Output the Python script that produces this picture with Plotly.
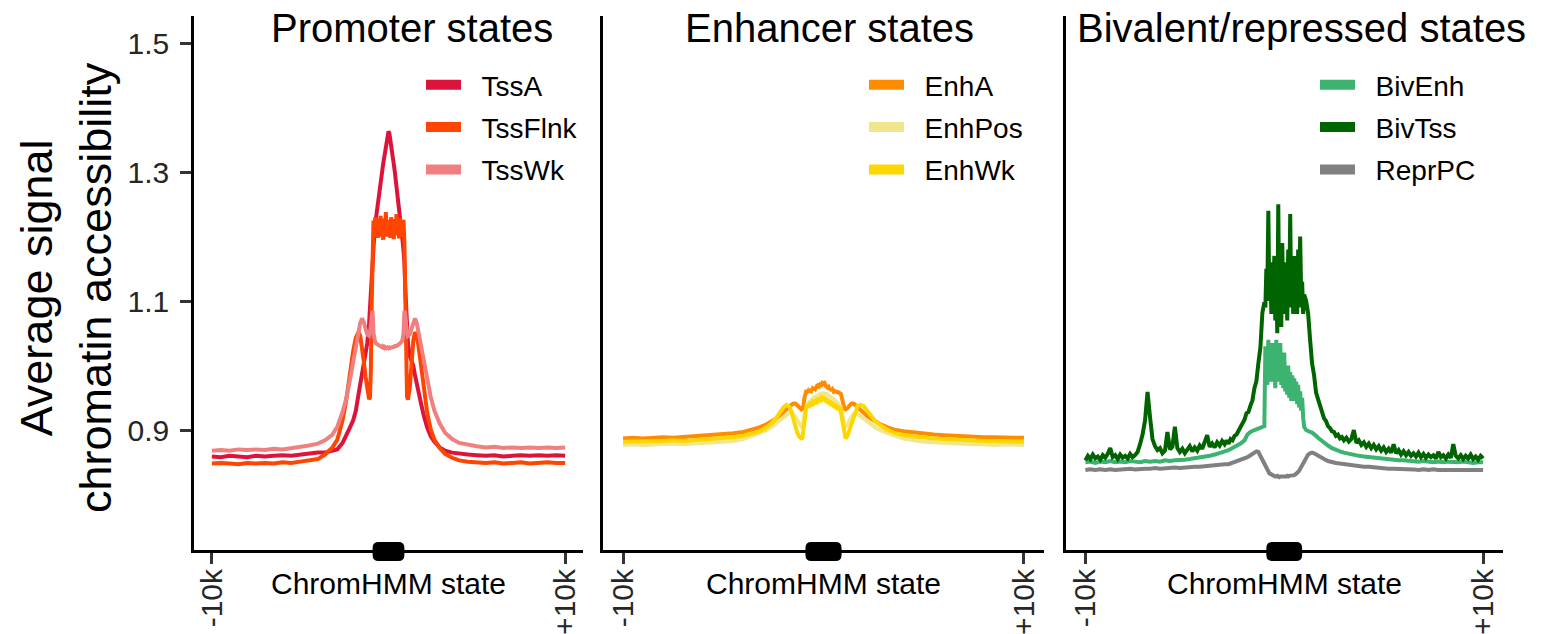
import plotly.graph_objects as go

W, H = 1553, 634
FONT = "Liberation Sans, Arial, Helvetica, sans-serif"

# ---------------------------------------------------------------------------
# Positions (bp) relative to the centre of the ChromHMM state
# ---------------------------------------------------------------------------
P12_X = ([-10000, -9500, -9000, -8500, -8000, -7500, -7000, -6500, -6000, -5500, -5000, -4500, -4000,
          -3600, -3200, -2900, -2600, -2400, -2200, -2000, -1850, -1700, -1600, -1500, -1400, -1300,
          -1200, -1100, -1050, -1000, -950]
         + list(range(-900, 901, 50))
         + [950, 1000, 1050, 1100, 1200, 1300, 1400, 1500, 1600, 1700, 1850, 2000, 2200, 2400, 2600,
            2900, 3200, 3600,
            4000, 4500, 5000, 5500, 6000, 6500, 7000, 7500, 8000, 8500, 9000, 9500, 10000])

P3_X = (list(range(-10000, -2999, 250))
        + [-2800, -2600, -2400, -2200, -2000, -1850, -1700, -1600, -1500, -1400, -1300, -1200, -1100, -1000]
        + list(range(-950, 951, 50))
        + [1000, 1100, 1200, 1300, 1400, 1500, 1600, 1700, 1850, 2000, 2200, 2400, 2600, 2800]
        + list(range(3000, 10001, 250)))

# BivTss is sampled more finely: its profile is much noisier
BIVTSS_X = (list(range(-10000, -2999, 125))
            + list(range(-2900, -999, 100))
            + list(range(-950, 951, 50))
            + list(range(1000, 2901, 100))
            + list(range(3000, 10001, 125)))

# ---------------------------------------------------------------------------
# Promoter states
# ---------------------------------------------------------------------------
TSSA = [0.859, 0.858, 0.860, 0.859, 0.858, 0.860, 0.859, 0.860, 0.861, 0.860, 0.862, 0.863, 0.865,
        0.865, 0.867, 0.870, 0.880, 0.890, 0.903, 0.915, 0.930, 0.955, 0.970, 0.988, 1.004, 1.015,
        1.035, 1.065, 1.090, 1.120, 1.150,
        1.170, 1.190, 1.205, 1.220, 1.232, 1.243, 1.253, 1.263, 1.273, 1.283, 1.293, 1.303, 1.313,
        1.322, 1.332, 1.342, 1.352, 1.360, 1.363, 1.360, 1.352, 1.342, 1.332, 1.322, 1.312, 1.302,
        1.291, 1.280, 1.268, 1.256, 1.244, 1.232, 1.220, 1.207, 1.193, 1.178, 1.160,
        1.120, 1.090, 1.062, 1.035, 1.015, 1.008, 1.000, 0.985, 0.970, 0.958, 0.940, 0.922, 0.903,
        0.890, 0.882, 0.873, 0.868, 0.865,
        0.863, 0.862, 0.861, 0.860, 0.861, 0.859, 0.860, 0.861, 0.860, 0.861, 0.860, 0.861, 0.860]

TSSFLNK = [0.848, 0.849, 0.848, 0.847, 0.849, 0.848, 0.849, 0.848, 0.850, 0.849, 0.851, 0.853, 0.855,
           0.862, 0.872, 0.885, 0.915, 0.945, 0.985, 1.022, 1.043, 1.052, 1.046, 1.030, 1.007, 0.983,
           0.962, 0.948, 0.950, 0.990, 1.100,
           1.195, 1.225, 1.200, 1.230, 1.205, 1.222, 1.198, 1.228, 1.200, 1.232, 1.205, 1.220, 1.195,
           1.228, 1.203, 1.238, 1.200, 1.226, 1.210, 1.224, 1.198, 1.230, 1.204, 1.219, 1.196, 1.227,
           1.202, 1.235, 1.205, 1.221, 1.197, 1.229, 1.203, 1.224, 1.199, 1.226, 1.190,
           1.090, 0.990, 0.952, 0.947, 0.965, 1.000, 1.038, 1.052, 1.046, 1.030, 0.998, 0.962, 0.925,
           0.900, 0.885, 0.872, 0.863, 0.857,
           0.853, 0.851, 0.850, 0.849, 0.850, 0.848, 0.849, 0.850, 0.848, 0.849, 0.850, 0.849, 0.849]

TSSWK = [0.868, 0.869, 0.868, 0.870, 0.869, 0.870, 0.869, 0.871, 0.870, 0.872, 0.873, 0.876, 0.879,
         0.884, 0.892, 0.905, 0.928, 0.948, 0.975, 1.005, 1.030, 1.052, 1.066, 1.073, 1.068, 1.057,
         1.048, 1.046, 1.050, 1.062, 1.078,
         1.085, 1.050, 1.040, 1.036, 1.034, 1.033, 1.032, 1.031, 1.031, 1.030, 1.029, 1.030, 1.028,
         1.029, 1.027, 1.028, 1.027, 1.028, 1.027, 1.028, 1.027, 1.028, 1.028, 1.029, 1.029, 1.030,
         1.030, 1.031, 1.031, 1.032, 1.033, 1.034, 1.035, 1.037, 1.041, 1.050, 1.085,
         1.078, 1.062, 1.050, 1.046, 1.048, 1.057, 1.068, 1.073, 1.066, 1.052, 1.030, 1.005, 0.975,
         0.950, 0.930, 0.910, 0.896, 0.886,
         0.880, 0.877, 0.875, 0.873, 0.874, 0.872, 0.873, 0.872, 0.873, 0.872, 0.873, 0.872, 0.873]

# ---------------------------------------------------------------------------
# Enhancer states
# ---------------------------------------------------------------------------
ENHA = [0.887, 0.888, 0.887, 0.888, 0.889, 0.888, 0.889, 0.890, 0.891, 0.892, 0.893, 0.895, 0.897,
        0.900, 0.904, 0.908, 0.913, 0.917, 0.922, 0.928, 0.933, 0.937, 0.939, 0.941, 0.941, 0.938,
        0.934, 0.932, 0.933, 0.938, 0.950,
        0.955, 0.962, 0.958, 0.961, 0.959, 0.963, 0.961, 0.964, 0.962, 0.966, 0.964, 0.967, 0.965,
        0.969, 0.968, 0.971, 0.970, 0.973, 0.972, 0.973, 0.969, 0.968, 0.966, 0.967, 0.963, 0.965,
        0.961, 0.963, 0.960, 0.962, 0.958, 0.961, 0.957, 0.960, 0.956, 0.958, 0.950,
        0.945, 0.936, 0.933, 0.932, 0.934, 0.938, 0.941, 0.941, 0.939, 0.936, 0.931, 0.926, 0.921,
        0.917, 0.913, 0.908, 0.904, 0.900,
        0.898, 0.896, 0.894, 0.893, 0.892, 0.891, 0.890, 0.890, 0.889, 0.889, 0.888, 0.888, 0.888]

ENHPOS = [0.877, 0.878, 0.877, 0.878, 0.878, 0.879, 0.878, 0.879, 0.880, 0.881, 0.882, 0.883, 0.886,
          0.891, 0.895, 0.899, 0.905, 0.910, 0.915, 0.921, 0.925, 0.927, 0.926, 0.924, 0.920, 0.914,
          0.908, 0.905, 0.906, 0.912, 0.925,
          0.932, 0.938, 0.940, 0.942, 0.944, 0.945, 0.947, 0.948, 0.950, 0.951, 0.952, 0.953, 0.954,
          0.955, 0.956, 0.956, 0.957, 0.957, 0.957, 0.957, 0.956, 0.956, 0.955, 0.954, 0.953, 0.952,
          0.951, 0.950, 0.948, 0.947, 0.945, 0.944, 0.942, 0.940, 0.938, 0.936, 0.930,
          0.922, 0.912, 0.906, 0.905, 0.908, 0.915, 0.921, 0.925, 0.926, 0.925, 0.922, 0.918, 0.913,
          0.908, 0.904, 0.899, 0.895, 0.891,
          0.887, 0.884, 0.882, 0.881, 0.880, 0.879, 0.879, 0.878, 0.878, 0.877, 0.878, 0.877, 0.877]

ENHWK = [0.882, 0.882, 0.883, 0.882, 0.883, 0.884, 0.883, 0.884, 0.885, 0.886, 0.887, 0.889, 0.891,
         0.894, 0.898, 0.903, 0.910, 0.917, 0.926, 0.935, 0.939, 0.936, 0.928, 0.916, 0.905, 0.895,
         0.889, 0.887, 0.888, 0.900, 0.920,
         0.925, 0.938, 0.936, 0.940, 0.938, 0.941, 0.940, 0.943, 0.941, 0.944, 0.943, 0.946, 0.944,
         0.947, 0.946, 0.949, 0.947, 0.950, 0.948, 0.949, 0.946, 0.947, 0.944, 0.945, 0.942, 0.943,
         0.940, 0.941, 0.938, 0.939, 0.936, 0.937, 0.934, 0.935, 0.932, 0.933, 0.922,
         0.912, 0.898, 0.889, 0.887, 0.891, 0.900, 0.911, 0.922, 0.931, 0.937, 0.939, 0.937, 0.929,
         0.920, 0.913, 0.906, 0.900, 0.895,
         0.892, 0.890, 0.888, 0.887, 0.886, 0.885, 0.884, 0.884, 0.883, 0.883, 0.882, 0.882, 0.882]

# ---------------------------------------------------------------------------
# Bivalent / repressed states
# ---------------------------------------------------------------------------
BIVENH = [0.850, 0.851, 0.849, 0.851, 0.850, 0.852, 0.850, 0.851, 0.850, 0.852, 0.851, 0.850, 0.852,
          0.851, 0.852, 0.851, 0.853, 0.852, 0.853, 0.853, 0.854, 0.855, 0.856, 0.857, 0.858, 0.860,
          0.862, 0.864, 0.867,
          0.869, 0.872, 0.875, 0.879, 0.884, 0.893, 0.897, 0.899, 0.900, 0.901, 0.902, 0.903, 0.905, 0.906,
          1.030, 1.020, 0.970, 1.040, 0.980, 1.030, 0.975, 1.035, 0.990, 1.020, 0.965, 1.040, 0.975,
          1.030, 0.980, 1.035, 0.970, 1.010, 0.965, 1.020, 0.960, 1.000, 0.955, 1.000, 0.950, 0.990,
          0.945, 0.985, 0.950, 0.980, 0.945, 0.975, 0.940, 0.970, 0.935, 0.960, 0.930, 0.950, 0.920,
          0.905, 0.900, 0.898, 0.897, 0.896, 0.894, 0.891, 0.888, 0.884, 0.880, 0.876, 0.872, 0.869, 0.867,
          0.865, 0.863, 0.862, 0.860, 0.859, 0.858, 0.857, 0.856, 0.855, 0.855, 0.854, 0.853, 0.853,
          0.852, 0.852, 0.851, 0.852, 0.851, 0.850, 0.851, 0.850, 0.851, 0.850, 0.850, 0.851, 0.850,
          0.849, 0.850, 0.850]

BIVTSS = [0.853, 0.860, 0.855, 0.862, 0.856, 0.859, 0.854, 0.861, 0.857, 0.863, 0.872, 0.858, 0.861,
          0.855, 0.862, 0.857, 0.860, 0.856, 0.863, 0.858, 0.861, 0.866, 0.878, 0.893, 0.915, 0.959,
          0.920, 0.886, 0.875, 0.869, 0.872, 0.864, 0.868, 0.897, 0.870, 0.874, 0.905, 0.872, 0.866,
          0.871, 0.864, 0.870, 0.875, 0.867, 0.873, 0.868, 0.876, 0.871, 0.880, 0.892, 0.874, 0.879,
          0.873, 0.881, 0.876, 0.883, 0.878,
          0.884, 0.879, 0.886, 0.884, 0.891, 0.893, 0.899, 0.903, 0.912, 0.916, 0.926, 0.928, 0.938,
          0.946, 0.965, 0.976, 1.004, 1.028, 1.082, 1.098,
          1.090, 1.150, 1.120, 1.240, 1.100, 1.160, 1.080, 1.140, 1.090, 1.170, 1.070, 1.130, 1.050,
          1.250, 1.080, 1.150, 1.060, 1.190, 1.090, 1.160, 1.080, 1.140, 1.070, 1.180, 1.100, 1.235,
          1.090, 1.150, 1.080, 1.170, 1.100, 1.140, 1.080, 1.180, 1.090, 1.200, 1.110, 1.130, 1.080,
          1.110, 1.100, 1.081, 1.040, 1.003, 0.985, 0.958, 0.948, 0.936, 0.930, 0.918, 0.914, 0.906,
          0.903, 0.898, 0.897, 0.891, 0.893, 0.887, 0.889,
          0.884, 0.888, 0.882, 0.886, 0.900, 0.880, 0.884, 0.877, 0.881, 0.874, 0.879, 0.872, 0.877,
          0.870, 0.875, 0.868, 0.873, 0.866, 0.871, 0.865, 0.878, 0.864, 0.869, 0.862, 0.867, 0.861,
          0.866, 0.860, 0.864, 0.859, 0.865, 0.858, 0.863, 0.857, 0.862, 0.858, 0.861, 0.856, 0.866,
          0.858, 0.861, 0.856, 0.862, 0.857, 0.878, 0.860, 0.856, 0.861, 0.855, 0.860, 0.856, 0.862,
          0.855, 0.859, 0.854, 0.860, 0.856]

REPRPC = [0.838, 0.839, 0.838, 0.839, 0.838, 0.839, 0.838, 0.839, 0.839, 0.840, 0.839, 0.840, 0.840,
          0.840, 0.841, 0.840, 0.841, 0.841, 0.842, 0.841, 0.842, 0.842, 0.843, 0.843, 0.844, 0.844,
          0.845, 0.846, 0.847,
          0.847, 0.849, 0.851, 0.853, 0.856, 0.858, 0.861, 0.863, 0.865, 0.867, 0.866, 0.860, 0.855, 0.848,
          0.844, 0.840, 0.837, 0.835, 0.833, 0.832, 0.831, 0.830, 0.829, 0.829, 0.828, 0.828, 0.829,
          0.828, 0.827, 0.828, 0.828, 0.827, 0.828, 0.828, 0.827, 0.828, 0.829, 0.828, 0.829, 0.829,
          0.830, 0.829, 0.830, 0.830, 0.831, 0.832, 0.833, 0.835, 0.837, 0.840, 0.843, 0.847, 0.850,
          0.853, 0.858, 0.862, 0.864, 0.865, 0.864, 0.862, 0.860, 0.857, 0.855, 0.852, 0.850, 0.849, 0.848,
          0.847, 0.846, 0.845, 0.844, 0.843, 0.843, 0.842, 0.841, 0.841, 0.840, 0.840, 0.840, 0.839,
          0.839, 0.839, 0.838, 0.839, 0.838, 0.839, 0.838, 0.838, 0.839, 0.838, 0.838, 0.839, 0.838,
          0.838, 0.839, 0.838]

Y_TICKS = [0.9, 1.1, 1.3, 1.5]
X_TICKS = [-10000, 10000]
X_TICK_TEXT = ["-10k", "+10k"]
STATE_HALF_WIDTH = 900  # bp either side of the state centre

PANELS = [
    dict(title="Promoter states", title_x=412, dom=(194.2, 582.8), xr=(-11000, 11000),
         series=[("TssA", P12_X, TSSA, "#DC143C"), ("TssFlnk", P12_X, TSSFLNK, "#FF4500"),
                 ("TssWk", P12_X, TSSWK, "#F08080")], legend_x=421),
    dict(title="Enhancer states", title_x=829, dom=(603.0, 1044.0), xr=(-11000, 11000),
         series=[("EnhA", P12_X, ENHA, "#FF8C00"), ("EnhPos", P12_X, ENHPOS, "#F0E68C"),
                 ("EnhWk", P12_X, ENHWK, "#FFD700")], legend_x=864),
    dict(title="Bivalent/repressed states", title_x=1301, dom=(1065.5, 1503.0), xr=(-11000, 11000),
         series=[("BivEnh", P3_X, BIVENH, "#3CB371"), ("BivTss", BIVTSS_X, BIVTSS, "#006400"),
                 ("ReprPC", P3_X, REPRPC, "#808080")], legend_x=1315),
]

Y_RANGE = (0.714, 1.542)
Y_DOM_PX = (16.0, 550.0)   # top, bottom (pixels from the top of the figure)
NBSP = "\u00a0"


def px_to_paper_x(p):
    return p / W


def px_to_paper_y(p):
    return 1 - p / H


fig = go.Figure()
shapes, annotations = [], []
layout = {}

for i, pan in enumerate(PANELS):
    k = "" if i == 0 else str(i + 1)
    xa, ya = "x" + k, "y" + k
    leg = "legend" + k

    for name, xs, vals, color in pan["series"]:
        fig.add_trace(go.Scatter(x=xs, y=vals, mode="lines", name=name,
                                 line=dict(color=color, width=4), showlegend=False,
                                 xaxis=xa, yaxis=ya, hoverinfo="skip"))
    # legend swatches
    for name, xs, vals, color in pan["series"]:
        fig.add_trace(go.Scatter(x=[None], y=[None], mode="lines", name=NBSP * 2 + name,
                                 line=dict(color=color, width=10), legend=leg,
                                 legendgroup=name, xaxis=xa, yaxis=ya))

    d0, d1 = pan["dom"]
    layout["xaxis" + k] = dict(
        domain=[px_to_paper_x(d0), px_to_paper_x(d1)], range=list(pan["xr"]),
        anchor=ya, showline=True, linecolor="black", linewidth=3, showgrid=False,
        zeroline=False, ticks="outside", ticklen=11, tickwidth=3, tickcolor="#333333",
        tickvals=X_TICKS, ticktext=X_TICK_TEXT, tickangle=-90, ticklabelstandoff=-7,
        tickfont=dict(family=FONT, size=30, color="#262626"), fixedrange=True)
    yax = dict(
        domain=[px_to_paper_y(Y_DOM_PX[1]), px_to_paper_y(Y_DOM_PX[0])], range=list(Y_RANGE),
        anchor=xa, showline=True, linecolor="black", linewidth=3, showgrid=False,
        zeroline=False, fixedrange=True)
    if i == 0:
        yax.update(ticks="outside", ticklen=11, tickwidth=3, tickcolor="#333333",
                   tickvals=Y_TICKS, ticktext=[f"{v:.1f}" for v in Y_TICKS],
                   tickfont=dict(family=FONT, size=30, color="#262626"), ticklabelstandoff=5)
    else:
        yax.update(showticklabels=False, ticks="")
    layout["yaxis" + k] = yax

    layout[leg] = dict(x=px_to_paper_x(pan["legend_x"]), y=px_to_paper_y(60),
                       xanchor="left", yanchor="top", bgcolor="rgba(0,0,0,0)",
                       borderwidth=0, itemwidth=35, tracegroupgap=3,
                       font=dict(family=FONT, size=28, color="black"))

    # panel title
    annotations.append(dict(text=pan["title"], x=px_to_paper_x(pan["title_x"]),
                            y=px_to_paper_y(28), xref="paper", yref="paper",
                            xanchor="center", yanchor="middle", showarrow=False,
                            font=dict(family=FONT, size=40, color="black")))
    # x-axis title
    annotations.append(dict(text="ChromHMM state", x=px_to_paper_x((d0 + d1) / 2),
                            y=px_to_paper_y(583), xref="paper", yref="paper",
                            xanchor="center", yanchor="middle", showarrow=False,
                            font=dict(family=FONT, size=30, color="black")))

    # rounded bar marking the extent of the ChromHMM state on the x axis
    r0, r1 = pan["xr"]

    def to_px(xv):
        return d0 + (xv - r0) / (r1 - r0) * (d1 - d0)

    xl, xr_ = to_px(-STATE_HALF_WIDTH), to_px(STATE_HALF_WIDTH)
    yc, hh, rr = Y_DOM_PX[1] + 1.5, 9.5, 6.0
    top, bot = yc - hh, yc + hh
    pts = [("M", xl + rr, top), ("L", xr_ - rr, top), ("Q", xr_, top, xr_, top + rr),
           ("L", xr_, bot - rr), ("Q", xr_, bot, xr_ - rr, bot), ("L", xl + rr, bot),
           ("Q", xl, bot, xl, bot - rr), ("L", xl, top + rr), ("Q", xl, top, xl + rr, top)]
    path = ""
    for p in pts:
        cmd, coords = p[0], p[1:]
        pairs = [f"{px_to_paper_x(coords[j]):.5f},{px_to_paper_y(coords[j + 1]):.5f}"
                 for j in range(0, len(coords), 2)]
        path += cmd + " ".join(pairs) + " "
    shapes.append(dict(type="path", path=path + "Z", xref="paper", yref="paper",
                       fillcolor="black", line=dict(width=0), layer="above"))

# y-axis title shared by all panels
annotations.append(dict(text="Average signal<br>chromatin accessibility",
                        x=px_to_paper_x(66), y=px_to_paper_y(288), xref="paper", yref="paper",
                        xanchor="center", yanchor="middle", textangle=-90, showarrow=False,
                        font=dict(family=FONT, size=45, color="black")))

fig.update_layout(width=W, height=H, margin=dict(l=0, r=0, t=0, b=0, autoexpand=False),
                  paper_bgcolor="white", plot_bgcolor="white",
                  shapes=shapes, annotations=annotations, **layout)

fig.write_html("out.html")
